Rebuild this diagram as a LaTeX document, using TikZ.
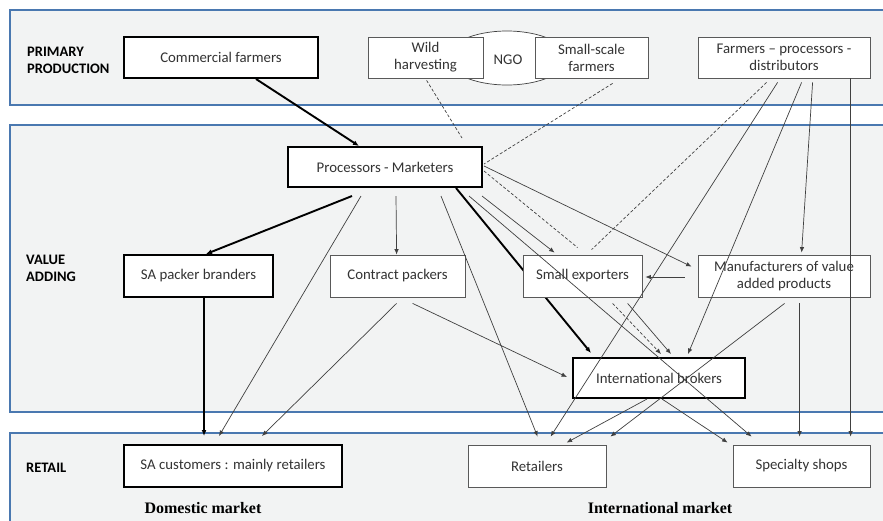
\documentclass[tikz,border=0pt]{standalone}
\usepackage{fontspec}
\setmainfont{Carlito}
\newfontfamily\mktfont{Liberation Serif}
\usetikzlibrary{arrows.meta,calc,shapes.geometric}
\definecolor{bandfill}{HTML}{F2F3F3}
\definecolor{bandblue}{HTML}{4A78B0}
\definecolor{txt}{HTML}{333333}
\definecolor{thinline}{HTML}{404040}
\pgfdeclarelayer{back}
\pgfdeclarelayer{mid}
\pgfsetlayers{back,mid,main}
\begin{document}
\begin{tikzpicture}[x=1pt,y=-1pt,
  band/.style={fill=bandfill,draw=bandblue,line width=1.4pt},
  boxbase/.style={fill=white,align=center,inner sep=0pt,text=txt,font=\fontsize{14.8}{17}\selectfont},
  thickbox/.style={boxbase,draw=black,line width=2pt},
  thinbox/.style={boxbase,draw=gray!70!black,line width=0.8pt},
  lvl/.style={font=\bfseries\fontsize{14.5}{17}\selectfont,align=left,anchor=west,inner sep=0pt},
  mkt/.style={font=\mktfont\bfseries\fontsize{16}{19}\selectfont,inner sep=0pt},
  flow/.style={draw=thinline,line width=0.7pt,-{Latex[length=5.5pt,width=4.5pt]}},
  bigflow/.style={draw=black,line width=1.9pt,-{Latex[length=6pt,width=5pt]}},
  dline/.style={draw=thinline,line width=0.7pt,dash pattern=on 3pt off 2pt},
]
\useasboundingbox (0,0) rectangle (883,520);
\begin{pgfonlayer}{back}
\fill[white] (0,0) rectangle (883,520);
\draw[band] (10,10) rectangle (895,105);
\draw[band] (10,125) rectangle (895,412);
\draw[band] (10,433) rectangle (895,535);
\end{pgfonlayer}

% level labels
\node[lvl] (lp) at (27,60) {PRIMARY\\PRODUCTION};
\node[lvl] (lv) at (26,268) {VALUE\\ADDING};
\node[lvl] (lr) at (26,468) {RETAIL};

% NGO lens
\node[draw=thinline,line width=0.7pt,fill=white,ellipse,minimum width=120pt,minimum height=54pt,inner sep=0pt] (ngoshape) at (507,58) {};
\node[text=txt,font=\fontsize{14.8}{17}\selectfont,inner sep=0pt] (ngo) at (508,60) {NGO};

% primary production
\node[thickbox,minimum width=194pt,minimum height=41pt] (cf) at (221,57.5) {Commercial farmers};
\node[thinbox,minimum width=115pt,minimum height=41pt] (wild) at (425.5,57.5) {Wild\\harvesting};
\node[thinbox,minimum width=113pt,minimum height=41pt] (ssf) at (591.5,57.5) {Small-scale\\farmers};
\node[thinbox,minimum width=172pt,minimum height=41pt] (fpd) at (784,57.5) {Farmers -- processors -\\distributors};

% value adding
\node[thickbox,minimum width=194pt,minimum height=40pt] (pm) at (385,167) {Processors - Marketers};
\node[thickbox,minimum width=149pt,minimum height=42pt] (sapb) at (198.5,276) {SA packer branders};
\node[thinbox,minimum width=135pt,minimum height=42pt] (cp) at (397.5,276) {Contract packers};
\node[thinbox,minimum width=119pt,minimum height=42pt] (se) at (582.5,276) {Small exporters};
\node[thinbox,minimum width=172pt,minimum height=42pt] (man) at (784,276) {Manufacturers of value\\added products};
\node[thickbox,minimum width=172pt,minimum height=40pt] (ib) at (659,378) {International brokers};

% retail
\node[thickbox,minimum width=218pt,minimum height=42pt] (sac) at (233,466) {SA customers : mainly retailers};
\node[thinbox,minimum width=138pt,minimum height=42pt] (ret) at (537,466) {Retailers};
\node[thinbox,minimum width=137pt,minimum height=42pt] (ss) at (801.5,466) {Specialty shops};

\node[mkt] (dm) at (203,508) {Domestic market};
\node[mkt] (im) at (660,508) {International market};

% thick flow hidden under small exporters
\begin{pgfonlayer}{mid}
\draw[bigflow] ($(pm.south west)+(169,0)$) -- ($(ib.north west)+(19,-4)$);
\end{pgfonlayer}

% thick flows
\draw[bigflow] ($(cf.south west)+(133,0)$) -- ($(pm.north west)+(72,0)$);
\draw[bigflow] ($(pm.south west)+(65,8)$) -- ($(sapb.north west)+(83,0)$);
\draw[bigflow] ($(sapb.south west)+(81,0)$) -- ($(sac.north west)+(81,-8)$);

% thin flows
\draw[flow] ($(pm.south west)+(74,8)$) -- ($(sac.north west)+(96,-8)$);
\draw[flow] ($(pm.south west)+(109,8)$) -- ($(cp.north west)+(67,0)$);
\draw[flow] ($(pm.south west)+(154,8)$) -- ($(ret.north west)+(70,-8)$);
\draw[flow] ($(pm.south west)+(182,8)$) -- ($(ss.north west)+(19,-8)$);
\draw[flow] ($(pm.south west)+(195,8)$) -- ($(se.north west)+(32,-2)$);
\draw[flow] ($(pm.north east)+(1,20)$) -- ($(man.north west)+(-6,12)$);
\draw[flow] ($(man.west)+(-13,1)$) -- ($(se.east)+(3,1)$);
\draw[flow] ($(fpd.south west)+(153,0)$) -- ($(ss.north west)+(118,-8)$);
\draw[flow] ($(fpd.south west)+(115,4)$) -- ($(man.north west)+(104,-2)$);
\draw[flow] ($(fpd.south west)+(80,4)$) -- ($(ret.north west)+(83,-8)$);
\draw[flow] ($(fpd.south west)+(104,4)$) -- ($(ib.north west)+(116,-3)$);
\draw[flow] ($(man.south west)+(87,6)$) -- ($(ret.north east)+(4,-8)$);
\draw[flow] ($(man.south west)+(102,6)$) -- ($(ss.north west)+(67,-8)$);
\draw[flow] ($(cp.south west)+(67,6)$) -- ($(sac.north west)+(139,-8)$);
\draw[flow] ($(cp.south west)+(83,6)$) -- ($(ib.west)+(-5,-1)$);
\draw[flow] ($(se.south west)+(105,6)$) -- ($(ib.north west)+(99,-3)$);
\draw[flow] ($(ib.south west)+(75,0)$) -- ($(ret.north west)+(99,-2)$);
\draw[flow] ($(ib.south west)+(90,0)$) -- ($(ss.north west)+(-5,-2)$);

% dashed links
\draw[dline] ($(wild.south west)+(59,2)$) -- ($(pm.north west)+(175,-8)$);
\draw[dline] ($(ssf.south west)+(78,5)$) -- ($(pm.north east)+(1,18)$);
\draw[dline] ($(fpd.south west)+(69,4)$) -- ($(se.north west)+(69,-5)$);
\draw[dline] ($(pm.north east)+(1,25)$) -- ($(se.north west)+(55,-7)$);
\draw[dline,-{Latex[length=5.5pt,width=4.5pt]}] ($(se.south west)+(90,6)$) -- ($(ib.north west)+(89,-3)$);
\end{tikzpicture}
\end{document}
